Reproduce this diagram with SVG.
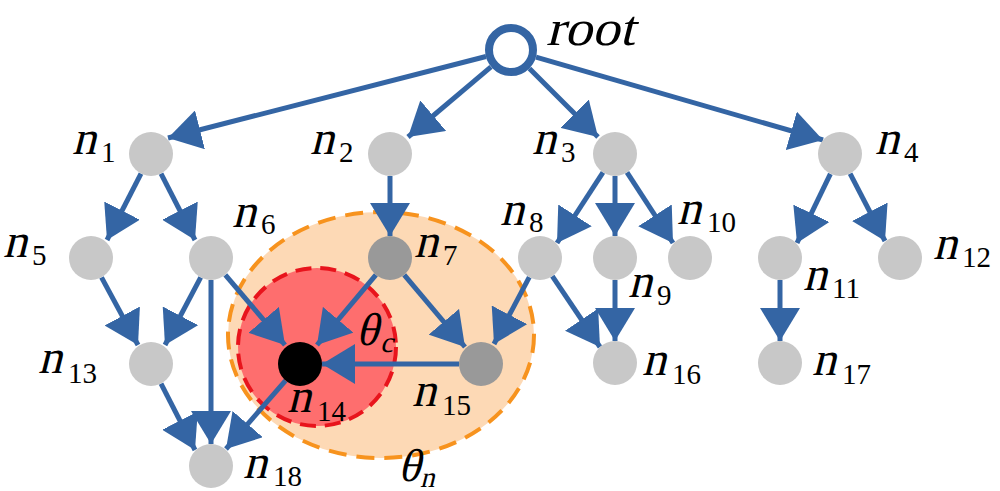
<svg xmlns="http://www.w3.org/2000/svg" width="1000" height="491" viewBox="0 0 1000 491">
<style>
.e{stroke:#3465a4;stroke-width:5;fill:none;marker-end:url(#ah)}
.g{fill:#c8c8c8}
.d{fill:#999999}
text{font-family:'Liberation Serif','Times New Roman',serif;font-style:normal;fill:#000}
.n{font-size:48px}
.s{font-size:29px}
.th{font-size:46px}
</style>
<defs>
<marker id="ah" markerUnits="userSpaceOnUse" markerWidth="34" markerHeight="40" refX="33" refY="20" orient="auto" viewBox="0 0 34 40">
<path d="M0,0 L33,20 L0,40 z" fill="#3465a4"/>
</marker>
</defs>
<rect width="1000" height="491" fill="#fff"/>
<g id="theta_n_region">
<ellipse cx="381" cy="335" rx="153" ry="123" fill="#fdd9b5" stroke="#f7931e" stroke-width="4" stroke-dasharray="18 10"/>
</g>
<g id="theta_c_region">
<circle cx="317" cy="347" r="79" fill="#fe6e6e" stroke="#e8141c" stroke-width="4" stroke-dasharray="16 9"/>
</g>
<g id="edges">
<line class="e" x1="486" y1="56.5" x2="168" y2="138"/>
<line class="e" x1="491" y1="66.8" x2="408" y2="137"/>
<line class="e" x1="529.4" y1="68.4" x2="598" y2="137"/>
<line class="e" x1="536" y1="57.2" x2="823" y2="140"/>
<line class="e" x1="141" y1="173.6" x2="107" y2="240"/>
<line class="e" x1="161" y1="173.6" x2="195" y2="240"/>
<line class="e" x1="390" y1="176" x2="390" y2="236"/>
<line class="e" x1="603" y1="172.4" x2="557" y2="243"/>
<line class="e" x1="615" y1="176" x2="615" y2="236"/>
<line class="e" x1="627" y1="172.4" x2="673" y2="243"/>
<line class="e" x1="830.4" y1="173.8" x2="797" y2="243"/>
<line class="e" x1="850.1" y1="173.6" x2="885" y2="241"/>
<line class="e" x1="101.5" y1="277.4" x2="138" y2="345"/>
<line class="e" x1="200.7" y1="277.4" x2="165" y2="345"/>
<line class="e" x1="211" y1="280" x2="211" y2="444"/>
<line class="e" x1="161" y1="383.6" x2="195" y2="450"/>
<line class="e" x1="225.3" y1="274.8" x2="285" y2="345"/>
<line class="e" x1="375.9" y1="274.9" x2="317" y2="345"/>
<line class="e" x1="404.2" y1="274.8" x2="465" y2="347"/>
<line class="e" x1="529.3" y1="277.2" x2="494" y2="344"/>
<line class="e" x1="459" y1="364" x2="322" y2="364"/>
<line class="e" x1="285.5" y1="380.6" x2="226" y2="449"/>
<line class="e" x1="552.3" y1="276.2" x2="600" y2="347"/>
<line class="e" x1="615" y1="280" x2="615" y2="341"/>
<line class="e" x1="780" y1="280" x2="780" y2="341"/>
</g>
<g id="root"><circle cx="511" cy="50" r="22" fill="#fff" stroke="#3465a4" stroke-width="8"/><text class="n" style="font-size:50px" transform="translate(546,45) skewX(-14) scale(1.1,1)">root</text></g>
<g id="n1"><circle class="g" cx="151" cy="154" r="22"/><text class="n" transform="translate(72,154) skewX(-14)">n</text><text class="s" x="101" y="162">1</text></g>
<g id="n2"><circle class="g" cx="390" cy="154" r="22"/><text class="n" transform="translate(310,154) skewX(-14)">n</text><text class="s" x="339" y="162">2</text></g>
<g id="n3"><circle class="g" cx="615" cy="154" r="22"/><text class="n" transform="translate(532,154) skewX(-14)">n</text><text class="s" x="561" y="162">3</text></g>
<g id="n4"><circle class="g" cx="840" cy="154" r="22"/><text class="n" transform="translate(875,154) skewX(-14)">n</text><text class="s" x="904" y="162">4</text></g>
<g id="n5"><circle class="g" cx="91" cy="258" r="22"/><text class="n" transform="translate(3,257) skewX(-14)">n</text><text class="s" x="32" y="265">5</text></g>
<g id="n6"><circle class="g" cx="211" cy="258" r="22"/><text class="n" transform="translate(232,227) skewX(-14)">n</text><text class="s" x="261" y="234">6</text></g>
<g id="n7"><circle class="d" cx="390" cy="258" r="22"/><text class="n" transform="translate(414,257) skewX(-14)">n</text><text class="s" x="443" y="265">7</text></g>
<g id="n8"><circle class="g" cx="540" cy="258" r="22"/><text class="n" transform="translate(500,225) skewX(-14)">n</text><text class="s" x="529" y="232">8</text></g>
<g id="n9"><circle class="g" cx="615" cy="258" r="22"/><text class="n" transform="translate(628,297) skewX(-14)">n</text><text class="s" x="657" y="305">9</text></g>
<g id="n10"><circle class="g" cx="690" cy="258" r="22"/><text class="n" transform="translate(677,224) skewX(-14)">n</text><text class="s" x="707" y="232">10</text></g>
<g id="n11"><circle class="g" cx="780" cy="258" r="22"/><text class="n" transform="translate(803,290) skewX(-14)">n</text><text class="s" x="832" y="298">11</text></g>
<g id="n12"><circle class="g" cx="900" cy="258" r="22"/><text class="n" transform="translate(933,259) skewX(-14)">n</text><text class="s" x="962" y="267">12</text></g>
<g id="n13"><circle class="g" cx="151" cy="364" r="22"/><text class="n" transform="translate(38,373) skewX(-14)">n</text><text class="s" x="68" y="383">13</text></g>
<g id="n14"><circle cx="300" cy="364" r="22" fill="#000"/><text class="n" transform="translate(287,412) skewX(-14)">n</text><text class="s" x="317" y="421">14</text></g>
<g id="n15"><circle class="d" cx="481" cy="364" r="22"/><text class="n" transform="translate(412,406) skewX(-14)">n</text><text class="s" x="442" y="415">15</text></g>
<g id="n16"><circle class="g" cx="615" cy="363" r="22"/><text class="n" transform="translate(642,375) skewX(-14)">n</text><text class="s" x="672" y="384">16</text></g>
<g id="n17"><circle class="g" cx="780" cy="363" r="22"/><text class="n" transform="translate(812,375) skewX(-14)">n</text><text class="s" x="842" y="384">17</text></g>
<g id="n18"><circle class="g" cx="211" cy="466" r="22"/><text class="n" transform="translate(243,478) skewX(-14)">n</text><text class="s" x="273" y="486">18</text></g>
<g id="theta_c_label"><text class="th" transform="translate(356,345) skewX(-14)">θ</text><text class="s" transform="translate(380,352) skewX(-14)">c</text></g>
<g id="theta_n_label"><text class="th" transform="translate(398,481) skewX(-14)">θ</text><text class="s" transform="translate(420,487) skewX(-14)">n</text></g>
</svg>
